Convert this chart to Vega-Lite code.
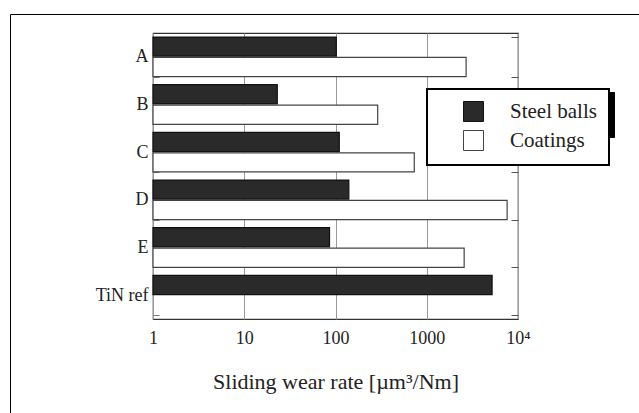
{
  "$schema": "https://vega.github.io/schema/vega-lite/v6.json",
  "autosize": {"type": "none"},
  "padding": {"left": 153, "top": 33, "right": 121, "bottom": 94},
  "width": 365,
  "height": 286,
  "background": "white",
  "config": {
    "font": "Liberation Serif",
    "view": {"stroke": "#333", "strokeWidth": 1.2}
  },
  "data": {
    "values": [
      {"sample": "A", "series": "Steel balls", "rate": 102},
      {"sample": "A", "series": "Coatings", "rate": 2700},
      {"sample": "B", "series": "Steel balls", "rate": 23},
      {"sample": "B", "series": "Coatings", "rate": 290},
      {"sample": "C", "series": "Steel balls", "rate": 110},
      {"sample": "C", "series": "Coatings", "rate": 730},
      {"sample": "D", "series": "Steel balls", "rate": 140},
      {"sample": "D", "series": "Coatings", "rate": 7600},
      {"sample": "E", "series": "Steel balls", "rate": 86},
      {"sample": "E", "series": "Coatings", "rate": 2570},
      {"sample": "TiN ref", "series": "Steel balls", "rate": 5200}
    ]
  },
  "encoding": {
    "y": {
      "field": "sample",
      "type": "nominal",
      "sort": ["A", "B", "C", "D", "E", "TiN ref"],
      "scale": {"paddingInner": 0.17, "paddingOuter": 0.085}
    },
    "yOffset": {
      "field": "series",
      "type": "nominal",
      "sort": ["Steel balls", "Coatings"],
      "scale": {"domain": ["Steel balls", "Coatings"], "paddingInner": 0.06}
    },
    "x": {
      "field": "rate",
      "type": "quantitative",
      "scale": {"type": "log", "domain": [1, 10000], "nice": false}
    },
    "x2": {"datum": 1}
  },
  "layer": [
    {
      "mark": {"type": "bar", "strokeWidth": 1.2},
      "encoding": {
        "y": {
          "field": "sample",
          "type": "nominal",
          "sort": ["A", "B", "C", "D", "E", "TiN ref"],
          "scale": {"paddingInner": 0.17, "paddingOuter": 0.085},
          "axis": {
            "title": null,
            "domain": false,
            "tickBand": "extent",
            "tickSize": -6,
            "tickColor": "#777",
            "labelFontSize": 18,
            "labelColor": "#222",
            "labelPadding": 11
          }
        },
        "x": {
          "field": "rate",
          "type": "quantitative",
          "scale": {"type": "log", "domain": [1, 10000], "nice": false},
          "axis": {
            "title": "Sliding wear rate [µm³/Nm]",
            "values": [1, 10, 100, 1000, 10000],
            "labelExpr": "datum.value >= 10000 ? '10⁴' : format(datum.value, 'd')",
            "grid": true,
            "gridColor": "#999",
            "gridWidth": 1,
            "ticks": false,
            "domain": false,
            "labelFontSize": 18,
            "labelColor": "#222",
            "labelPadding": 10,
            "labelFlush": false,
            "titleFontSize": 22,
            "titleFontWeight": "normal",
            "titleColor": "#222",
            "titlePadding": 24
          }
        },
        "fill": {
          "field": "series",
          "type": "nominal",
          "scale": {"domain": ["Steel balls", "Coatings"], "range": ["#2a2a2a", "#ffffff"]},
          "legend": {
            "title": null,
            "orient": "none",
            "legendX": 274,
            "legendY": 56,
            "zindex": 3,
            "strokeColor": "#000",
            "fillColor": "white",
            "padding": 12,
            "symbolOffset": 24,
            "symbolType": "square",
            "symbolSize": 400,
            "symbolStrokeColor": "#333",
            "symbolStrokeWidth": 1,
            "labelOffset": 26,
            "labelFontSize": 21,
            "labelColor": "#222",
            "rowPadding": 4,
            "encode": {"legend": {"update": {"strokeWidth": {"value": 2}}}}
          }
        },
        "stroke": {
          "field": "series",
          "type": "nominal",
          "scale": {"domain": ["Steel balls", "Coatings"], "range": ["#111111", "#444444"]},
          "legend": null
        }
      }
    },
    {
      "mark": {"type": "bar", "opacity": 0},
      "encoding": {
        "y": {
          "field": "sample",
          "type": "nominal",
          "sort": ["A", "B", "C", "D", "E", "TiN ref"],
          "scale": {"paddingInner": 0.17, "paddingOuter": 0.085},
          "axis": {
            "orient": "right",
            "title": null,
            "domain": false,
            "labels": false,
            "tickBand": "extent",
            "tickSize": -7,
            "tickColor": "#555"
          }
        },
        "opacity": {
          "field": "series",
          "type": "nominal",
          "scale": {"domain": ["Coatings", "Steel balls"], "range": [0, 0]},
          "legend": {
            "title": null,
            "orient": "none",
            "legendX": 277,
            "legendY": 59,
            "zindex": 1,
            "strokeColor": "#000",
            "fillColor": "#000",
            "padding": 12,
            "symbolOffset": 112,
            "symbolType": "square",
            "symbolSize": 400,
            "labelOffset": 26,
            "labelFontSize": 21,
            "labelColor": "#000",
            "labelExpr": "''",
            "rowPadding": 12
          }
        },
        "strokeWidth": {
          "field": "sample",
          "type": "nominal",
          "scale": {"domain": ["A"], "range": [0]},
          "legend": {
            "title": null,
            "orient": "none",
            "legendX": -143,
            "legendY": -19,
            "zindex": 2,
            "strokeColor": "#000",
            "padding": 330,
            "labelExpr": "''",
            "symbolOpacity": 0,
            "encode": {"legend": {"update": {"strokeWidth": {"value": 2}}}}
          }
        }
      }
    }
  ],
  "resolve": {"axis": {"y": "independent"}}
}
